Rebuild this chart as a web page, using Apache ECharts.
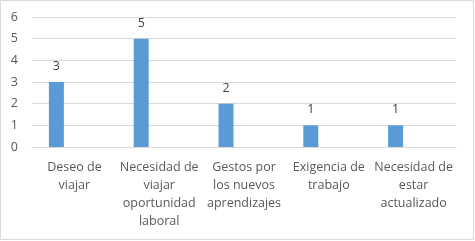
<!DOCTYPE html>
<html><head><meta charset="utf-8">
<script src="https://cdn.jsdelivr.net/npm/echarts@6/dist/echarts.min.js"></script>
<style>html,body{margin:0;padding:0;background:#fff}#c{width:475px;height:241px}</style>
</head><body><div id="c"></div>
<script>
const categories = ["Deseo de\nviajar", "Necesidad de\nviajar\noportunidad\nlaboral", "Gestos por\nlos nuevos\naprendizajes", "Exigencia de\ntrabajo", "Necesidad de\nestar\nactualizado"];
const values = [3, 5, 2, 1, 1];
const emptySeries = [];
const yTicks = [0, 1, 2, 3, 4, 5, 6];

const FONT = '"Open Sans", sans-serif';
const chart = echarts.init(document.getElementById('c'), null, {renderer: 'canvas'});
chart.setOption({
  animation: false,
  backgroundColor: '#fff',
  graphic: [{type: 'rect', shape: {x: 0.5, y: 0.5, width: 473, height: 239}, style: {fill: 'none', stroke: '#d9d9d9', lineWidth: 1}}],
  grid: {left: 32, right: 19, top: 17, bottom: 94},
  xAxis: {
    type: 'category', data: categories,
    axisLine: {show: true, lineStyle: {color: '#d9d9d9'}},
    axisTick: {show: false},
    axisLabel: {interval: 0, color: '#595959', fontFamily: FONT, fontSize: 12.5, lineHeight: 18, margin: 11}
  },
  yAxis: {
    type: 'value', min: yTicks[0], max: yTicks[yTicks.length - 1], interval: 1,
    axisLine: {show: false}, axisTick: {show: false},
    splitLine: {lineStyle: {color: '#d9d9d9', width: 1}},
    axisLabel: {color: '#595959', fontFamily: FONT, fontSize: 12.5, margin: 14}
  },
  series: [{
    type: 'bar', data: values, barWidth: 15, barGap: '140%',
    itemStyle: {color: '#5b9bd5'},
    label: {show: true, position: 'top', distance: 9, color: '#404040', fontFamily: FONT, fontSize: 12.5}
  }, {
    type: 'bar', data: emptySeries, barWidth: 15, barGap: '140%',
    itemStyle: {color: '#ed7d31'}
  }]
});
</script></body></html>
